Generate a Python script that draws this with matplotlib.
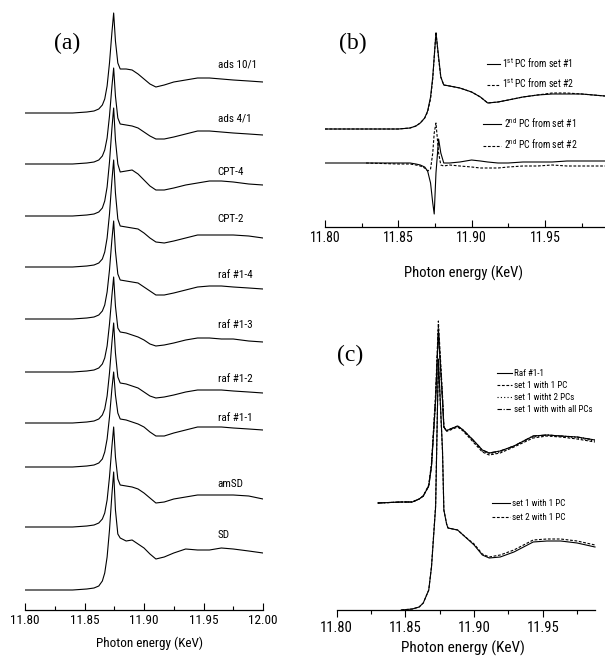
import matplotlib
matplotlib.use('Agg')
import matplotlib.pyplot as plt

plt.rcParams['font.family'] = ['Roboto Condensed', 'Archivo Narrow', 'Liberation Sans', 'DejaVu Sans']
plt.rcParams['mathtext.fontset'] = 'custom'
plt.rcParams['mathtext.rm'] = 'Roboto Condensed'
plt.rcParams['mathtext.it'] = 'Roboto Condensed'

# ---------------- panel (a): XANES spectra, stacked (a.u.) ----------------
energy_a = [11.800, 11.840, 11.852, 11.858, 11.862, 11.865, 11.867, 11.869, 11.871, 11.873,
            11.8745, 11.876, 11.878, 11.880, 11.885, 11.890, 11.895, 11.900, 11.905, 11.910,
            11.917, 11.925, 11.935, 11.945, 11.955, 11.965, 11.975, 11.988, 12.000]

ads_10_1 = [0, 0, 1, 2, 4, 8, 14, 27, 50, 80, 100,
            72, 50, 44, 44, 43, 39, 34, 29, 26, 28, 31, 33, 35, 35, 34, 33, 32, 31]
ads_4_1 = [0, 0, 1, 2, 4, 8, 14, 26, 48, 77, 96,
           68, 46, 40, 39, 38, 36, 32, 28, 25, 25, 27, 30, 33, 33, 32, 31, 30, 29]
cpt_4 = [0, 0, 1, 2, 4, 8, 15, 29, 54, 87, 108,
         76, 52, 44, 45, 46, 42, 36, 30, 26, 26, 28, 31, 33, 35, 35, 34, 32, 31]
cpt_2 = [0, 0, 1, 2, 4, 8, 15, 29, 53, 86, 107,
         74, 48, 41, 40, 39, 38, 34, 29, 25, 24, 26, 29, 32, 32, 32, 32, 31, 29]
raf_1_4 = [0, 0, 1, 2, 4, 8, 14, 27, 49, 79, 98,
           68, 45, 39, 38, 37, 36, 32, 28, 24, 24, 26, 29, 32, 33, 33, 32, 31, 30]
raf_1_3 = [0, 0, 1, 2, 4, 8, 14, 26, 48, 76, 95,
           66, 44, 40, 39, 37, 35, 32, 28, 26, 27, 29, 32, 34, 34, 33, 33, 31, 30]
raf_1_2 = [0, 0, 1, 2, 4, 8, 14, 27, 50, 80, 100,
           70, 46, 40, 39, 37, 35, 31, 27, 25, 26, 28, 31, 33, 33, 33, 32, 31, 30]
raf_1_1 = [0, 0, 1, 2, 4, 8, 15, 28, 50, 78, 95,
           72, 54, 48, 47, 45, 43, 40, 35, 31, 31, 34, 37, 40, 40, 40, 39, 38, 37]
am_sd = [0, 0, 1, 2, 4, 8, 14, 27, 50, 80, 100,
         70, 48, 42, 41, 40, 38, 34, 29, 24, 25, 28, 30, 32, 32, 32, 32, 31, 28]
sd = [0, 0, 1, 2, 4, 9, 17, 33, 60, 95, 118,
      80, 56, 52, 49, 50, 46, 42, 36, 31, 33, 37, 41, 40, 40, 42, 41, 39, 37]

names_a = ['ads 10/1', 'ads 4/1', 'CPT-4', 'CPT-2', 'raf #1-4',
           'raf #1-3', 'raf #1-2', 'raf #1-1', 'amSD', 'SD']
spectra_a = [ads_10_1, ads_4_1, cpt_4, cpt_2, raf_1_4, raf_1_3, raf_1_2, raf_1_1, am_sd, sd]
offsets_a = [497, 446, 394, 343, 291, 238, 187, 143, 83, 20]
label_y_a = [546, 491, 438, 391, 335, 285, 231, 192, 126, 75]

# ---------------- panel (b): principal components ----------------
energy_b = [11.800, 11.850, 11.858, 11.862, 11.865, 11.868, 11.870, 11.872, 11.8735, 11.8745,
            11.8757, 11.8775, 11.879, 11.881, 11.885, 11.892, 11.900, 11.906, 11.911, 11.918,
            11.925, 11.935, 11.945, 11.955, 11.965, 11.975, 11.991]
pc1_set1 = [0, 0, 1, 3, 6, 11, 18, 32, 52, 72, 96, 72, 52, 44, 43, 41, 37, 32, 26, 27,
            29, 32, 34, 35, 35, 35, 33]
pc1_set2 = [0, 0, 1, 3, 6, 11, 17, 30, 50, 72, 97, 70, 52, 44, 43, 41, 37, 32, 26, 27,
            29, 32, 34, 36, 36, 35, 33]
pc2_set1 = [0, 0, 0, -1, -2, -4, -8, -20, -40, -51, -10, 24, 10, 0, 0, 1, 3, 2, 1, 0,
            0, 1, 1, 1, 2, 2, 2]
energy_b2 = [11.828] + energy_b[1:]
pc2_set2 = [0, -1, -1, -2, -3, -5, -8, -6, 10, 30, 40, 10, -2, -3, -2, -3, -4, -5, -5, -5,
            -4, -3, -3, -2, -3, -3, -3]
offset_pc1 = 98
offset_pc2 = 64

# ---------------- panel (c): reconstructions ----------------
energy_c = [11.830, 11.847, 11.855, 11.860, 11.863, 11.867, 11.869, 11.872, 11.874, 11.877,
            11.878, 11.880, 11.881, 11.888, 11.892, 11.900, 11.906, 11.911, 11.919, 11.929,
            11.943, 11.953, 11.963, 11.975, 11.988]
raf_1_1_c = [0, 1, 1, 4, 7, 17, 37, 103, 172, 103, 76, 72, 73, 77, 73, 62, 53, 50, 52, 57,
             67, 68, 67, 66, 63]
set1_1pc = [0, 1, 1, 4, 7, 18, 40, 110, 182, 108, 76, 72, 72, 76, 72, 60, 51, 48, 50, 56,
            65, 67, 66, 64, 61]
set1_2pc = [0, 1, 1, 4, 7, 17, 38, 105, 176, 105, 76, 72, 73, 77, 73, 61, 52, 49, 51, 57,
            66, 68, 67, 65, 62]
set1_all = [0, 1, 1, 4, 7, 17, 37, 103, 173, 103, 76, 72, 73, 77, 73, 62, 53, 50, 52, 57,
            67, 68, 67, 66, 63]
energy_c2 = energy_c[1:]
low_set1_1pc = [0, 1, 3, 7, 20, 43, 103, 251, 160, 100, 86, 82, 80, 75, 65, 55, 52, 53, 58,
                68, 69, 69, 67, 63]
low_set2_1pc = [0, 1, 3, 7, 20, 44, 105, 250, 158, 100, 86, 82, 80, 75, 66, 56, 53, 55, 60,
                70, 71, 71, 69, 65]
offset_upper = 107

W, H = 605, 659
fig = plt.figure(figsize=(6.05, 6.59), dpi=100)

def px_rect(x0, y0, x1, y1):
    return [x0 / W, 1 - y1 / H, (x1 - x0) / W, (y1 - y0) / H]

def style_axis(ax, direction, labelsize, last_major):
    for s in ['left', 'right', 'top']:
        ax.spines[s].set_visible(False)
    ax.spines['bottom'].set_linewidth(0.9)
    ax.set_yticks([])
    majors = [11.80, 11.85, 11.90, 11.95, 12.00]
    ax.set_xticks([t for t in majors if t <= last_major])
    ax.set_xticks([11.825, 11.875, 11.925, 11.975], minor=True)
    ax.tick_params(axis='x', which='major', direction=direction, length=5, width=0.8,
                   labelsize=labelsize, pad=3)
    ax.tick_params(axis='x', which='minor', direction=direction, length=3, width=0.8)
    ax.xaxis.set_major_formatter(matplotlib.ticker.FormatStrFormatter('%.2f'))

lw = 0.8

# (a)
ax_a = fig.add_axes(px_rect(25, 0, 263, 610))
ax_a.set_xlim(11.80, 12.00)
ax_a.set_ylim(0, 610)
style_axis(ax_a, 'in', 9.5, 12.00)
for name, spec, off, ly in zip(names_a, spectra_a, offsets_a, label_y_a):
    ax_a.plot(energy_a, [v + off for v in spec], color='black', lw=lw)
    ax_a.text(11.962, ly, name, fontsize=8, ha='left', va='center')
ax_a.set_xlabel('Photon energy (KeV)', fontsize=9.5)
ax_a.xaxis.set_label_coords(0.525, -0.054)
ax_a.xaxis.label.set_va('center')

# (b)
ax_b = fig.add_axes(px_rect(325, 0, 605, 227))
ax_b.set_xlim(11.80, 11.991)
ax_b.set_ylim(0, 227)
style_axis(ax_b, 'in', 10, 11.95)
l1, = ax_b.plot(energy_b, [v + offset_pc1 for v in pc1_set1], color='black', lw=lw)
l2, = ax_b.plot(energy_b, [v + offset_pc1 for v in pc1_set2], color='black', lw=lw,
                ls=(0, (2.5, 1.5)))
l3, = ax_b.plot(energy_b, [v + offset_pc2 for v in pc2_set1], color='black', lw=lw)
l4, = ax_b.plot(energy_b2, [v + offset_pc2 for v in pc2_set2], color='black', lw=lw,
                ls=(0, (2.5, 1.5)))
ax_b.set_xlabel('Photon energy (KeV)', fontsize=10.5)
ax_b.xaxis.set_label_coords(0.493, -0.203)
ax_b.xaxis.label.set_va('center')

leg_b1 = ax_b.legend([l1, l2], [r'1$^{st}$ PC from set #1', r'1$^{st}$ PC from set #2'],
                     loc='upper left', bbox_to_anchor=(487 / W, 1 - 56 / H),
                     bbox_transform=fig.transFigure, frameon=False, fontsize=7,
                     borderpad=0, borderaxespad=0, handlelength=1.3, handletextpad=0.25,
                     labelspacing=0.65)
ax_b.add_artist(leg_b1)
ax_b.legend([l3, l4], [r'2$^{nd}$ PC from set #1', r'2$^{nd}$ PC from set #2'],
            loc='upper left', bbox_to_anchor=(483 / W, 1 - 116 / H),
            bbox_transform=fig.transFigure, frameon=False, fontsize=7,
            borderpad=0, borderaxespad=0, handlelength=1.9, handletextpad=0.25,
            labelspacing=0.8)

# (c)
ax_c = fig.add_axes(px_rect(336.7, 300, 595, 610))
ax_c.set_xlim(11.80, 11.988)
ax_c.set_ylim(0, 310)
style_axis(ax_c, 'out', 10.5, 11.95)
c1, = ax_c.plot(energy_c, [v + offset_upper for v in raf_1_1_c], color='black', lw=lw)
c2, = ax_c.plot(energy_c, [v + offset_upper for v in set1_1pc], color='black', lw=lw,
                ls=(0, (2.5, 1.5)))
c3, = ax_c.plot(energy_c, [v + offset_upper for v in set1_2pc], color='black', lw=lw,
                ls=(0, (1, 2)))
c4, = ax_c.plot(energy_c, [v + offset_upper for v in set1_all], color='black', lw=lw,
                ls=(0, (4, 1.5, 1, 1.5)))
d1, = ax_c.plot(energy_c2, low_set1_1pc, color='black', lw=lw, clip_on=False)
d2, = ax_c.plot(energy_c2, low_set2_1pc, color='black', lw=lw, ls=(0, (2.5, 1.5)),
                clip_on=False)
ax_c.set_xlabel('Photon energy (KeV)', fontsize=11)
ax_c.xaxis.set_label_coords(0.49, -0.1226)
ax_c.xaxis.label.set_va('center')

leg_c1 = ax_c.legend([c1, c2, c3, c4],
                     ['Raf #1-1', 'set 1 with 1 PC', 'set 1 witht 2 PCs', 'set 1 with with all PCs'],
                     loc='upper left', bbox_to_anchor=(497 / W, 1 - 369 / H),
                     bbox_transform=fig.transFigure, frameon=False, fontsize=6.5,
                     borderpad=0, borderaxespad=0, handlelength=1.7, handletextpad=0.2,
                     labelspacing=0.35)
ax_c.add_artist(leg_c1)
ax_c.legend([d1, d2], ['set 1 with 1 PC', 'set 2 with 1 PC'],
            loc='upper left', bbox_to_anchor=(492 / W, 1 - 499 / H),
            bbox_transform=fig.transFigure, frameon=False, fontsize=6.5,
            borderpad=0, borderaxespad=0, handlelength=2.0, handletextpad=0.2,
            labelspacing=0.55)

# panel letters
for lab, x, y in [('(a)', 67, 43), ('(b)', 353, 43), ('(c)', 350, 355)]:
    fig.text(x / W, 1 - y / H, lab, family=['Liberation Serif', 'DejaVu Serif'], fontsize=17,
             ha='center', va='center')

fig.savefig('out.png', dpi=100)
